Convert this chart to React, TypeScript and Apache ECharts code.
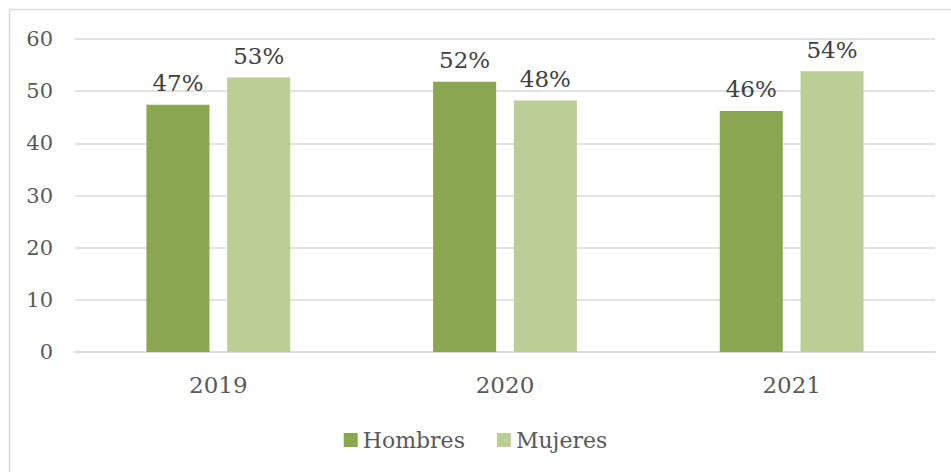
import React, { useEffect, useRef } from "react";
import * as echarts from "echarts";

const categories = ["2019", "2020", "2021"];
const hombres = [47.4, 51.8, 46.2];
const mujeres = [52.6, 48.2, 53.8];
const yTicks = { min: 0, max: 60, interval: 10 };

const FONT = "DejaVu Serif";

export default function App() {
  const ref = useRef<HTMLDivElement>(null);
  useEffect(() => {
    if (!ref.current) return;
    const chart = echarts.init(ref.current, undefined, { renderer: "svg" });
    const labelCfg = {
      show: true,
      position: "top",
      distance: 10,
      fontFamily: FONT,
      fontSize: 23,
      color: "#404040",
      formatter: (p: any) => Math.round(p.value) + "%",
    };
    chart.setOption({
      animation: false,
      backgroundColor: "#ffffff",
      graphic: [
        {
          type: "line",
          shape: { x1: 9.5, y1: 9.5, x2: 951, y2: 9.5 },
          style: { stroke: "#d9d9d9", lineWidth: 1.5 },
          silent: true,
        },
        {
          type: "line",
          shape: { x1: 9.5, y1: 9.5, x2: 9.5, y2: 472 },
          style: { stroke: "#d9d9d9", lineWidth: 1.5 },
          silent: true,
        },
      ],
      grid: { left: 75, right: 16, top: 39, bottom: 120, containLabel: false },
      legend: {
        bottom: 16,
        left: "center",
        itemWidth: 14,
        itemHeight: 14,
        itemGap: 32,
        icon: "rect",
        textStyle: { fontFamily: FONT, fontSize: 22, color: "#595959" },
        data: ["Hombres", "Mujeres"],
      },
      xAxis: {
        type: "category",
        data: categories,
        axisLine: { show: true, lineStyle: { color: "#d9d9d9", width: 1.5 } },
        axisTick: { show: false },
        axisLabel: {
          fontFamily: FONT,
          fontSize: 23,
          color: "#595959",
          margin: 21,
        },
      },
      yAxis: {
        type: "value",
        min: yTicks.min,
        max: yTicks.max,
        interval: yTicks.interval,
        axisLine: { show: false },
        axisTick: { show: false },
        splitLine: { lineStyle: { color: "#d9d9d9", width: 1.5 } },
        axisLabel: {
          fontFamily: FONT,
          fontSize: 21,
          color: "#595959",
          margin: 22,
        },
      },
      series: [
        {
          name: "Hombres",
          type: "bar",
          data: hombres,
          barWidth: "22%",
          barGap: "28%",
          itemStyle: { color: "#8aa64e" },
          label: labelCfg,
        },
        {
          name: "Mujeres",
          type: "bar",
          data: mujeres,
          barWidth: "22%",
          itemStyle: { color: "#bacf96" },
          label: labelCfg,
        },
      ],
    });
    return () => chart.dispose();
  }, []);
  return (
    <div
      ref={ref}
      style={{ position: "fixed", left: 0, top: 0, width: 951, height: 472 }}
    />
  );
}
